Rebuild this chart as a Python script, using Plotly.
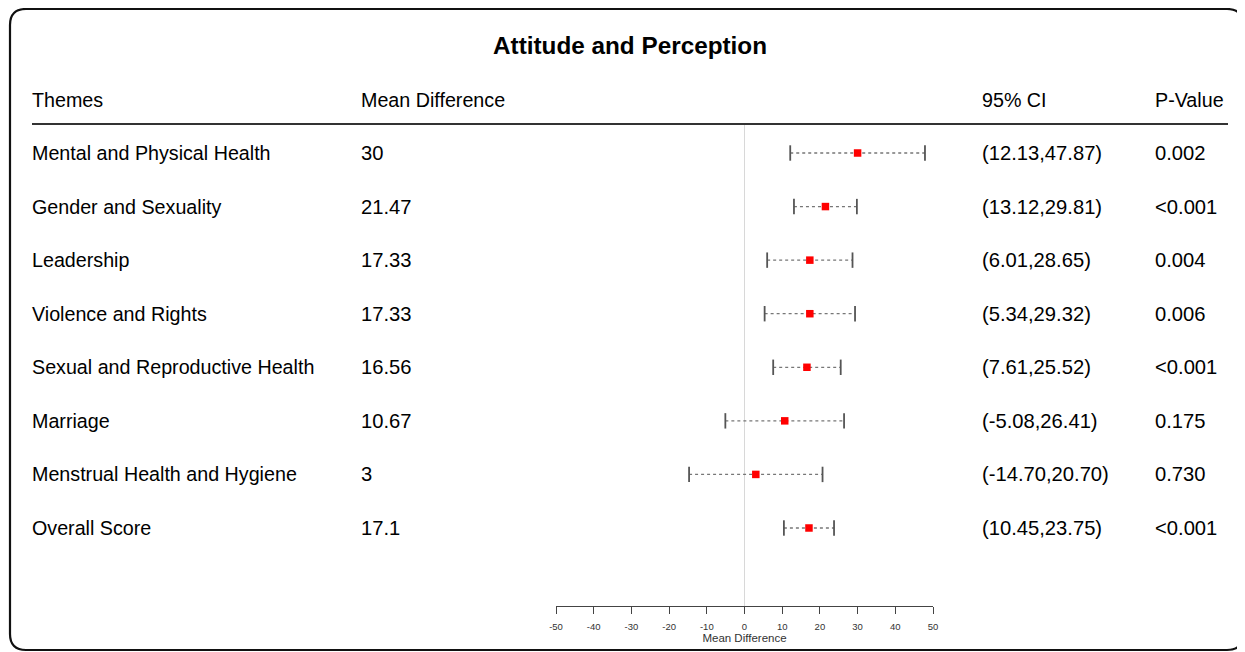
import plotly.graph_objects as go

themes = ["Mental and Physical Health", "Gender and Sexuality", "Leadership",
          "Violence and Rights", "Sexual and Reproductive Health", "Marriage",
          "Menstrual Health and Hygiene", "Overall Score"]
mean_diff = [30, 21.47, 17.33, 17.33, 16.56, 10.67, 3, 17.1]
ci_low = [12.13, 13.12, 6.01, 5.34, 7.61, -5.08, -14.70, 10.45]
ci_high = [47.87, 29.81, 28.65, 29.32, 25.52, 26.41, 20.70, 23.75]
p_values = ["0.002", "<0.001", "0.004", "0.006", "<0.001", "0.175", "0.730", "<0.001"]
x_ticks = [-50, -40, -30, -20, -10, 0, 10, 20, 30, 40, 50]

W, H = 1245, 652
OFF = 8  # page offset of the figure (body margin)
FONT = "Arial, Liberation Sans, sans-serif"

def px(x):
    return (x - OFF) / W

def py(y):
    return 1 - (y - OFF) / H

rows = list(range(len(themes)))

fig = go.Figure()

# dotted CI lines
lx, ly = [], []
for r, lo, hi in zip(rows, ci_low, ci_high):
    lx += [lo, hi, None]
    ly += [r, r, None]
fig.add_trace(go.Scatter(x=lx, y=ly, mode="lines",
                         line=dict(color="#777777", width=1.3, dash="dot"),
                         hoverinfo="skip", showlegend=False))
# caps
fig.add_trace(go.Scatter(x=ci_low + ci_high, y=rows + rows, mode="markers",
                         marker=dict(symbol="line-ns", size=11,
                                     line=dict(color="#555555", width=1.8)),
                         hoverinfo="skip", showlegend=False))
# point estimates
fig.add_trace(go.Scatter(x=mean_diff, y=rows, mode="markers",
                         marker=dict(symbol="square", size=7.5, color="#ff0000",
                                     line=dict(width=0)),
                         showlegend=False))

ann = []
col_x = {"theme": 30, "mean": 359, "ci": 980, "p": 1153}
TXT = dict(family=FONT, size=19.7, color="#000")
NUM = dict(family=FONT, size=20.2, color="#000")
for r, t, m, lo, hi, p in zip(rows, themes, mean_diff, ci_low, ci_high, p_values):
    for key, txt, f in [("theme", t, TXT), ("mean", f"{m:g}", NUM),
                        ("ci", f"({lo:.2f},{hi:.2f})", NUM), ("p", p, NUM)]:
        ann.append(dict(x=px(col_x[key]), xref="paper", y=r, yref="y",
                        text=txt, showarrow=False, xanchor="left",
                        yanchor="middle", font=f))
for key, txt in [("theme", "Themes"), ("mean", "Mean Difference"),
                 ("ci", "95% CI"), ("p", "P-Value")]:
    ann.append(dict(x=px(col_x[key]), xref="paper", y=py(100), yref="paper",
                    text=txt, showarrow=False, xanchor="left", yanchor="middle",
                    font=TXT))
ann.append(dict(x=px(630), xref="paper", y=py(45), yref="paper",
                text="<b>Attitude and Perception</b>", showarrow=False,
                xanchor="center", yanchor="middle",
                font=dict(family=FONT, size=24.3, color="#000")))

# rounded border
L, T, R, B, rad = 10, 9, 1243, 650, 16
path = (f"M {px(L+rad)},{py(T)} L {px(R-rad)},{py(T)} "
        f"Q {px(R)},{py(T)} {px(R)},{py(T+rad)} "
        f"L {px(R)},{py(B-rad)} Q {px(R)},{py(B)} {px(R-rad)},{py(B)} "
        f"L {px(L+rad)},{py(B)} Q {px(L)},{py(B)} {px(L)},{py(B-rad)} "
        f"L {px(L)},{py(T+rad)} Q {px(L)},{py(T)} {px(L+rad)},{py(T)} Z")
shapes = [
    dict(type="path", xref="paper", yref="paper", path=path,
         line=dict(color="#111", width=2.2)),
    dict(type="line", xref="paper", yref="paper", x0=px(32), x1=px(1228),
         y0=py(124), y1=py(124), line=dict(color="#333", width=2)),
]

row_px0, row_dy = 153, 53.57
top_px, bot_px = 124, 606
y_top = (top_px - row_px0) / row_dy
y_bot = (bot_px - row_px0) / row_dy

fig.update_layout(
    width=W, height=H, margin=dict(l=0, r=0, t=0, b=0, autoexpand=False),
    paper_bgcolor="white", plot_bgcolor="white",
    annotations=ann, shapes=shapes,
    xaxis=dict(domain=[px(556), px(933)], range=[-50, 50], tickvals=x_ticks,
               ticktext=[str(v) for v in x_ticks], automargin=False,
               ticks="outside", ticklen=7, tickwidth=1, tickcolor="#444",
               ticklabelstandoff=5,
               showline=True, linecolor="#444", linewidth=1,
               showgrid=False, zeroline=True, zerolinecolor="#d8d8d8",
               zerolinewidth=1, tickfont=dict(family=FONT, size=9.5, color="#333"),
               title=dict(text="Mean Difference", standoff=0,
                          font=dict(family=FONT, size=11.5, color="#333"))),
    yaxis=dict(domain=[py(bot_px), py(top_px)], range=[y_bot, y_top],
               visible=False, showgrid=False, zeroline=False, automargin=False),
)

fig.write_html("out.html")
